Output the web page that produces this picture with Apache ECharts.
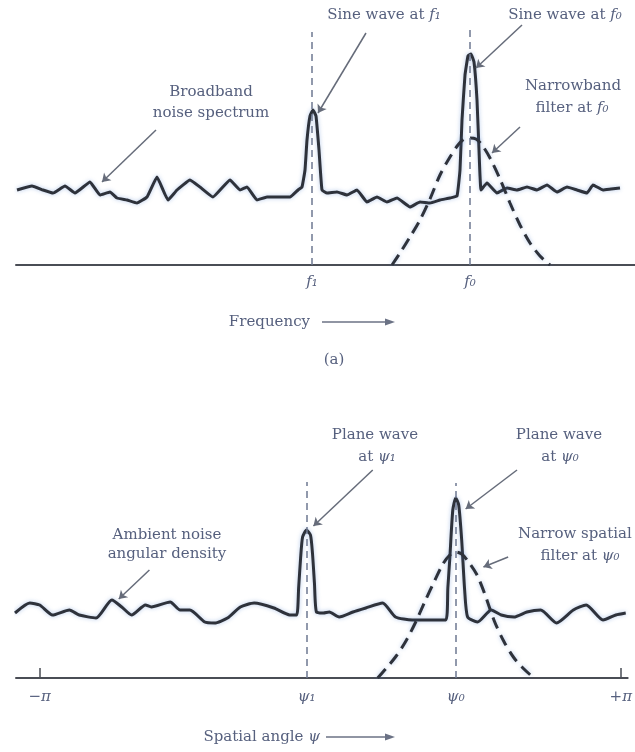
<!DOCTYPE html>
<html>
<head>
    <meta charset="utf-8">
    <title>Spectrum vs spatial filtering</title>
    <script src="https://cdn.jsdelivr.net/npm/echarts@6.0.0/dist/echarts.min.js"></script>
    <style>
        body { margin: 0; background: #fff; }
    </style>
</head>
<body>
    <div id="main" style="width: 635px;height:752px;"></div>
    <script type="text/javascript">
        // (a) frequency panel: x = position along axis, y = height above the baseline
        var freqNoiseX = [17, 32, 43, 53, 65, 75, 90, 100, 110, 117, 127, 137, 147, 157, 168, 177, 190, 200, 213, 230, 240, 247, 257, 267, 290, 298, 302,
            305, 307, 310, 313, 316, 319, 322,
            327, 337, 347, 357, 367, 377, 387, 397, 410, 420, 430, 440, 450, 457,
            460, 462, 465, 468, 471, 474, 477, 479, 481,
            487, 497, 507, 517, 527, 537, 547, 557, 567, 577, 587, 593, 603, 611, 620];
        var freqNoise = [75, 79, 75, 72, 79, 72, 83, 70, 73, 67, 65, 62, 68, 88, 65, 75, 85, 78, 68, 85, 75, 78, 65, 68, 68, 75, 78,
            95, 125, 149, 155, 149, 115, 75,
            72, 73, 70, 75, 63, 68, 63, 67, 58, 63, 62, 65, 67, 69,
            95, 145, 190, 209, 211, 203, 165, 115, 75,
            82, 72, 77, 75, 78, 75, 80, 73, 78, 75, 72, 80, 75, 76, 77];
        var freqFilterX = [392, 400, 410, 420, 430, 440, 450, 458, 464, 470, 476, 482, 490, 500, 510, 520, 530, 540, 550];
        var freqFilter = [0, 12, 28, 45, 66, 90, 108, 120, 126, 127, 126, 120, 107, 86, 62, 40, 22, 9, 0];
        var freqTickValues = [312, 470];
        var freqTickLabels = ['f₁', 'f₀'];
        var freqGuideHeights = [233, 235];
        // arrows: [fromX, fromY, toX, toY]
        var freqArrows = [[366, 232, 318, 152], [522, 240, 476, 197], [520, 138, 492, 112], [156, 135, 102, 83]];

        // (b) spatial panel
        var angleNoiseX = [15, 30, 40, 53, 70, 80, 97, 113, 123, 133, 147, 153, 172, 182, 192, 207, 217, 230, 243, 257, 277, 293, 300,
            302, 304, 306, 310, 314, 316, 318, 320,
            327, 333, 343, 357, 370, 387, 400, 417, 433, 451,
            453, 455, 458, 461, 464, 467, 470, 473,
            483, 497, 507, 520, 533, 547, 563, 580, 593, 610, 623, 633];
        var angleNoise = [65, 75, 73, 63, 68, 63, 60, 78, 71, 63, 73, 71, 76, 68, 68, 56, 55, 60, 71, 75, 70, 63, 63,
            90, 120, 141, 148, 143, 125, 95, 66,
            65, 66, 61, 66, 70, 75, 61, 58, 58, 58,
            90, 120, 168, 180, 173, 138, 88, 61,
            56, 68, 63, 61, 66, 68, 55, 68, 73, 58, 63, 65];
        var angleFilterX = [382, 390, 400, 410, 420, 430, 440, 448, 455, 461, 467, 474, 482, 490, 500, 510, 520, 530, 540];
        var angleFilter = [0, 9, 21, 36, 55, 77, 98, 114, 123, 126, 124, 116, 104, 85, 57, 36, 20, 9, 0];
        var angleTickValues = [40, 310, 461, 628];
        var angleTickLabels = ['−π', 'ψ₁', 'ψ₀', '+π'];
        var angleEndTicks = [40, 628];
        var angleGuideHeights = [196, 195];
        var angleArrows = [[377, 208, 317, 152], [523, 208, 471, 169], [514, 121, 489, 111], [151, 108, 120, 79]];

        var ink = '#2e323b';
        var txt = '#56607e';
        var halo = 'rgba(70,120,200,0.4)';
        var serif = 'DejaVu Serif';

        function zip(xs, ys) {
            return xs.map(function (x, i) { return [x, ys[i]]; });
        }

        function markLines(guideX, guideH, arrows) {
            var list = [];
            guideX.forEach(function (x, i) {
                list.push([
                    { coord: [x, 0], symbol: 'none', lineStyle: { color: '#6d7891', width: 1.5, type: [7, 5] } },
                    { coord: [x, guideH[i]], symbol: 'none' }
                ]);
            });
            arrows.forEach(function (a) {
                list.push([
                    { coord: [a[0], a[1]], symbol: 'none', lineStyle: { color: '#666c7a', width: 1.5, type: 'solid' } },
                    { coord: [a[2], a[3]], symbol: 'arrow', symbolSize: 8 }
                ]);
            });
            return list;
        }

        function axis(gridIndex, ticks, labels, endTicks, margin) {
            return {
                type: 'value', gridIndex: gridIndex, min: 16, max: 635,
                splitLine: { show: false },
                axisLine: { show: true, lineStyle: { color: '#4a4d55', width: 2 } },
                axisTick: endTicks ? { show: true, inside: true, length: 10, customValues: endTicks, lineStyle: { color: '#4a4d55', width: 1.5 } } : { show: false },
                axisLabel: {
                    customValues: ticks,
                    margin: margin,
                    fontFamily: serif, fontSize: 15, fontStyle: 'italic', color: txt,
                    formatter: function (v) {
                        var i = ticks.indexOf(v);
                        return i >= 0 ? labels[i] : '';
                    }
                }
            };
        }

        function text(x, y, rich, align) {
            return {
                type: 'text', x: x, y: y,
                style: {
                    text: rich, align: align || 'center', verticalAlign: 'middle',
                    font: '15px "DejaVu Serif"', fill: txt,
                    rich: {
                        i: { fontStyle: 'italic', fontFamily: serif, fontSize: 15, fill: txt }
                    }
                }
            };
        }

        function arrowGraphic(x1, x2, y) {
            return [
                { type: 'line', shape: { x1: x1, y1: y, x2: x2 - 6, y2: y }, style: { stroke: '#6b7285', lineWidth: 1.5 } },
                { type: 'polygon', shape: { points: [[x2 - 10, y - 3.5], [x2, y], [x2 - 10, y + 3.5]] }, style: { fill: '#6b7285' } }
            ];
        }

        var myChart = echarts.init(document.getElementById('main'));

        myChart.setOption({
            animation: false,
            backgroundColor: '#fff',
            grid: [
                { left: 16, right: 0, top: 0, height: 265 },
                { left: 16, right: 0, top: 400, height: 278 }
            ],
            xAxis: [
                axis(0, freqTickValues, freqTickLabels, null, 10),
                axis(1, angleTickValues, angleTickLabels, angleEndTicks, 12)
            ],
            yAxis: [
                { type: 'value', gridIndex: 0, min: 0, max: 265, show: false },
                { type: 'value', gridIndex: 1, min: 0, max: 278, show: false }
            ],
            series: [
                {
                    name: 'Broadband noise spectrum', type: 'line', xAxisIndex: 0, yAxisIndex: 0,
                    data: zip(freqNoiseX, freqNoise), smooth: 0.1, symbol: 'none',
                    lineStyle: { color: ink, width: 3, shadowColor: halo, shadowBlur: 4 },
                    markLine: { silent: true, label: { show: false }, data: markLines(freqTickValues, freqGuideHeights, freqArrows) }
                },
                {
                    name: 'Narrowband filter', type: 'line', xAxisIndex: 0, yAxisIndex: 0,
                    data: zip(freqFilterX, freqFilter), smooth: 0.3, symbol: 'none',
                    lineStyle: { color: ink, width: 3, type: [12, 7], shadowColor: halo, shadowBlur: 4 }
                },
                {
                    name: 'Ambient noise angular density', type: 'line', xAxisIndex: 1, yAxisIndex: 1,
                    data: zip(angleNoiseX, angleNoise), smooth: 0.2, symbol: 'none',
                    lineStyle: { color: ink, width: 3, shadowColor: halo, shadowBlur: 4 },
                    markLine: { silent: true, label: { show: false }, data: markLines([310, 461], angleGuideHeights, angleArrows) }
                },
                {
                    name: 'Narrow spatial filter', type: 'line', xAxisIndex: 1, yAxisIndex: 1,
                    data: zip(angleFilterX, angleFilter), smooth: 0.3, symbol: 'none',
                    lineStyle: { color: ink, width: 3, type: [12, 7], shadowColor: halo, shadowBlur: 4 }
                }
            ],
            graphic: [
                text(384, 15, 'Sine wave at {i|f₁}'),
                text(565, 15, 'Sine wave at {i|f₀}'),
                text(211, 92, 'Broadband'),
                text(211, 113, 'noise spectrum'),
                text(573, 86, 'Narrowband'),
                text(572, 108, 'filter at {i|f₀}'),
                text(310, 322, 'Frequency', 'right'),
                text(334, 360, '(a)'),
                text(375, 435, 'Plane wave'),
                text(377, 457, 'at {i|ψ₁}'),
                text(559, 435, 'Plane wave'),
                text(560, 457, 'at {i|ψ₀}'),
                text(167, 535, 'Ambient noise'),
                text(167, 554, 'angular density'),
                text(518, 534, 'Narrow spatial', 'left'),
                text(580, 556, 'filter at {i|ψ₀}'),
                text(320, 737, 'Spatial angle {i|ψ}', 'right')
            ].concat(arrowGraphic(322, 395, 322), arrowGraphic(326, 395, 737))
        });
    </script>
</body>
</html>
